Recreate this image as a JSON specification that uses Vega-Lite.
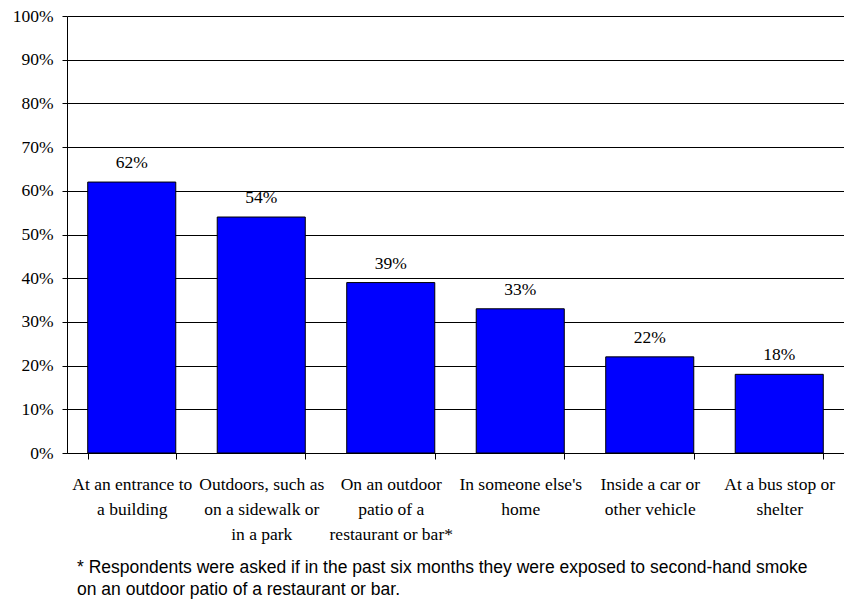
{
  "$schema": "https://vega.github.io/schema/vega-lite/v6.json",
  "width": 777,
  "height": 437,
  "autosize": {"type": "none"},
  "padding": {"left": 67, "top": 16, "right": 0, "bottom": 146},
  "background": "white",
  "config": {"view": {"stroke": null}},
  "data": {
    "values": [
      {"category": "At an entrance to a building", "value": 0.62},
      {"category": "Outdoors, such as on a sidewalk or in a park", "value": 0.54},
      {"category": "On an outdoor patio of a restaurant or bar*", "value": 0.39},
      {"category": "In someone else's home", "value": 0.33},
      {"category": "Inside a car or other vehicle", "value": 0.22},
      {"category": "At a bus stop or shelter", "value": 0.18}
    ]
  },
  "title": {
    "text": ["* Respondents were asked if in the past six months they were exposed to second-hand smoke", "on an outdoor patio of a restaurant or bar."],
    "orient": "bottom",
    "anchor": "start",
    "frame": "group",
    "dx": 10,
    "offset": 16,
    "font": "Liberation Sans",
    "fontSize": 17.5,
    "fontWeight": "normal",
    "color": "black",
    "lineHeight": 22
  },
  "encoding": {
    "x": {
      "field": "category",
      "type": "nominal",
      "sort": null,
      "scale": {"paddingInner": 0.32, "paddingOuter": 0.16},
      "axis": {
        "title": null,
        "labelAngle": 0,
        "labelFont": "Liberation Serif, DejaVu Serif, serif",
        "labelFontSize": 17.5,
        "labelColor": "black",
        "labelLineHeight": 25,
        "labelPadding": 16,
        "labelLimit": 0,
        "labelOverlap": false,
        "labelExpr": "datum.label == 'At an entrance to a building' ? ['At an entrance to', 'a building'] : datum.label == 'Outdoors, such as on a sidewalk or in a park' ? ['Outdoors, such as', 'on a sidewalk or', 'in a park'] : datum.label == 'On an outdoor patio of a restaurant or bar*' ? ['On an outdoor', 'patio of a', 'restaurant or bar*'] : datum.label == 'Inside a car or other vehicle' ? ['Inside a car or', 'other vehicle'] : datum.label == 'At a bus stop or shelter' ? ['At a bus stop or', 'shelter'] : datum.label == \"In someone else's home\" ? [\"In someone else's\", 'home'] : ''",
        "tickBand": "extent",
        "tickSize": 6,
        "tickColor": "black",
        "domainColor": "black",
        "grid": false
      }
    },
    "y": {
      "field": "value",
      "type": "quantitative",
      "scale": {"domain": [0, 1], "nice": false},
      "axis": {
        "title": null,
        "values": [0, 0.1, 0.2, 0.3, 0.4, 0.5, 0.6, 0.7, 0.8, 0.9, 1],
        "format": ".0%",
        "grid": true,
        "gridColor": "black",
        "gridOpacity": 1,
        "domainColor": "black",
        "tickColor": "black",
        "tickSize": 5,
        "labelFont": "Liberation Serif, DejaVu Serif, serif",
        "labelFontSize": 17.5,
        "labelColor": "black",
        "labelPadding": 9
      }
    }
  },
  "layer": [
    {
      "mark": {"type": "bar", "fill": "#0000FF", "stroke": "black", "strokeWidth": 1}
    },
    {
      "mark": {"type": "text", "font": "Liberation Serif, DejaVu Serif, serif", "fontSize": 17.5, "color": "black", "baseline": "middle", "dy": -19},
      "encoding": {"text": {"field": "value", "type": "quantitative", "format": ".0%"}}
    }
  ]
}
